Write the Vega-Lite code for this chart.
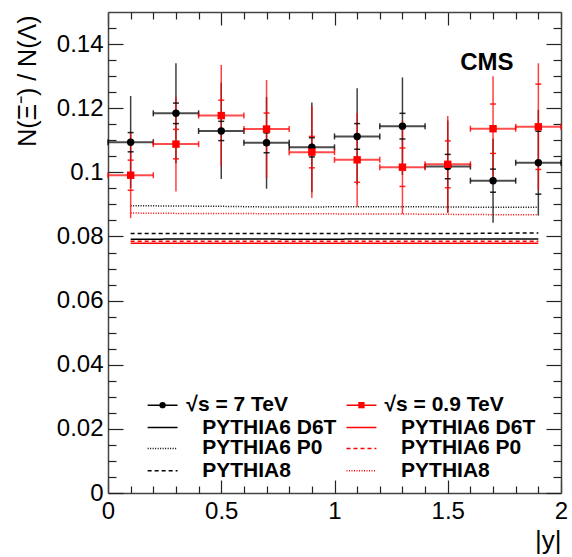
{
  "$schema": "https://vega.github.io/schema/vega-lite/v6.json",
  "width": 453,
  "height": 481,
  "autosize": {"type": "none"},
  "padding": {"left": 108, "top": 12, "right": 11, "bottom": 64},
  "background": "white",
  "config": {
    "view": {"stroke": null},
    "font": "Liberation Sans",
    "axis": {
      "grid": false,
      "domainColor": "#444",
      "domainWidth": 1.5,
      "tickColor": "#222",
      "tickWidth": 1.2,
      "labelFont": "Liberation Sans",
      "labelFontSize": 24,
      "labelColor": "#000",
      "titleFont": "Liberation Sans",
      "titleFontSize": 24,
      "titleFontWeight": "normal",
      "titleColor": "#000"
    }
  },
  "datasets": {
    "meas": [
      {"e": "7", "x": 0.1, "xlo": 0.0, "xhi": 0.2, "r": 0.1094, "lo": 0.0950, "hi": 0.1238, "slo": 0.1064, "shi": 0.1124},
      {"e": "7", "x": 0.3, "xlo": 0.2, "xhi": 0.4, "r": 0.1184, "lo": 0.1028, "hi": 0.1340, "slo": 0.1152, "shi": 0.1216},
      {"e": "7", "x": 0.5, "xlo": 0.4, "xhi": 0.6, "r": 0.1129, "lo": 0.0979, "hi": 0.1279, "slo": 0.1099, "shi": 0.1159},
      {"e": "7", "x": 0.7, "xlo": 0.6, "xhi": 0.8, "r": 0.1092, "lo": 0.0949, "hi": 0.1235, "slo": 0.1061, "shi": 0.1123},
      {"e": "7", "x": 0.9, "xlo": 0.8, "xhi": 1.0, "r": 0.1078, "lo": 0.0938, "hi": 0.1218, "slo": 0.1048, "shi": 0.1108},
      {"e": "7", "x": 1.1, "xlo": 1.0, "xhi": 1.2, "r": 0.1112, "lo": 0.0962, "hi": 0.1262, "slo": 0.1072, "shi": 0.1152},
      {"e": "7", "x": 1.3, "xlo": 1.2, "xhi": 1.4, "r": 0.1144, "lo": 0.0992, "hi": 0.1296, "slo": 0.1104, "shi": 0.1184},
      {"e": "7", "x": 1.5, "xlo": 1.4, "xhi": 1.6, "r": 0.1018, "lo": 0.0874, "hi": 0.1162, "slo": 0.0980, "shi": 0.1056},
      {"e": "7", "x": 1.7, "xlo": 1.6, "xhi": 1.8, "r": 0.0974, "lo": 0.0843, "hi": 0.1105, "slo": 0.0938, "shi": 0.1010},
      {"e": "7", "x": 1.9, "xlo": 1.8, "xhi": 2.0, "r": 0.1030, "lo": 0.0865, "hi": 0.1195, "slo": 0.0932, "shi": 0.1128},
      {"e": "0.9", "x": 0.1, "xlo": 0.0, "xhi": 0.2, "r": 0.0991, "lo": 0.0857, "hi": 0.1125, "slo": 0.0944, "shi": 0.1038},
      {"e": "0.9", "x": 0.3, "xlo": 0.2, "xhi": 0.4, "r": 0.1088, "lo": 0.0940, "hi": 0.1236, "slo": 0.1042, "shi": 0.1134},
      {"e": "0.9", "x": 0.5, "xlo": 0.4, "xhi": 0.6, "r": 0.1177, "lo": 0.1019, "hi": 0.1335, "slo": 0.1129, "shi": 0.1225},
      {"e": "0.9", "x": 0.7, "xlo": 0.6, "xhi": 0.8, "r": 0.1135, "lo": 0.0982, "hi": 0.1288, "slo": 0.1085, "shi": 0.1185},
      {"e": "0.9", "x": 0.9, "xlo": 0.8, "xhi": 1.0, "r": 0.1063, "lo": 0.0920, "hi": 0.1206, "slo": 0.1014, "shi": 0.1112},
      {"e": "0.9", "x": 1.1, "xlo": 1.0, "xhi": 1.2, "r": 0.1039, "lo": 0.0893, "hi": 0.1185, "slo": 0.0969, "shi": 0.1109},
      {"e": "0.9", "x": 1.3, "xlo": 1.2, "xhi": 1.4, "r": 0.1016, "lo": 0.0870, "hi": 0.1162, "slo": 0.0956, "shi": 0.1076},
      {"e": "0.9", "x": 1.5, "xlo": 1.4, "xhi": 1.6, "r": 0.1025, "lo": 0.0874, "hi": 0.1176, "slo": 0.0952, "shi": 0.1098},
      {"e": "0.9", "x": 1.7, "xlo": 1.6, "xhi": 1.8, "r": 0.1136, "lo": 0.0972, "hi": 0.1300, "slo": 0.1059, "shi": 0.1213},
      {"e": "0.9", "x": 1.9, "xlo": 1.8, "xhi": 2.0, "r": 0.1142, "lo": 0.0944, "hi": 0.1340, "slo": 0.1009, "shi": 0.1275}
    ],
    "mc": [
      {"e": "7", "g": "7 D6T", "x": 0.1, "r": 0.0791}, {"e": "7", "g": "7 D6T", "x": 0.3, "r": 0.0792}, {"e": "7", "g": "7 D6T", "x": 0.5, "r": 0.0792}, {"e": "7", "g": "7 D6T", "x": 0.7, "r": 0.0792}, {"e": "7", "g": "7 D6T", "x": 0.9, "r": 0.0791},
      {"e": "7", "g": "7 D6T", "x": 1.1, "r": 0.0792}, {"e": "7", "g": "7 D6T", "x": 1.3, "r": 0.0792}, {"e": "7", "g": "7 D6T", "x": 1.5, "r": 0.0792}, {"e": "7", "g": "7 D6T", "x": 1.7, "r": 0.0792}, {"e": "7", "g": "7 D6T", "x": 1.9, "r": 0.0792},
      {"e": "7", "g": "7 P0", "x": 0.1, "r": 0.0896}, {"e": "7", "g": "7 P0", "x": 0.3, "r": 0.0895}, {"e": "7", "g": "7 P0", "x": 0.5, "r": 0.0894}, {"e": "7", "g": "7 P0", "x": 0.7, "r": 0.0892}, {"e": "7", "g": "7 P0", "x": 0.9, "r": 0.0892},
      {"e": "7", "g": "7 P0", "x": 1.1, "r": 0.0893}, {"e": "7", "g": "7 P0", "x": 1.3, "r": 0.0893}, {"e": "7", "g": "7 P0", "x": 1.5, "r": 0.0892}, {"e": "7", "g": "7 P0", "x": 1.7, "r": 0.0891}, {"e": "7", "g": "7 P0", "x": 1.9, "r": 0.0891},
      {"e": "7", "g": "7 P8", "x": 0.1, "r": 0.0809}, {"e": "7", "g": "7 P8", "x": 0.3, "r": 0.0809}, {"e": "7", "g": "7 P8", "x": 0.5, "r": 0.0809}, {"e": "7", "g": "7 P8", "x": 0.7, "r": 0.0809}, {"e": "7", "g": "7 P8", "x": 0.9, "r": 0.0809},
      {"e": "7", "g": "7 P8", "x": 1.1, "r": 0.0809}, {"e": "7", "g": "7 P8", "x": 1.3, "r": 0.0809}, {"e": "7", "g": "7 P8", "x": 1.5, "r": 0.0809}, {"e": "7", "g": "7 P8", "x": 1.7, "r": 0.0810}, {"e": "7", "g": "7 P8", "x": 1.9, "r": 0.0811},
      {"e": "0.9", "g": "0.9 D6T", "x": 0.1, "r": 0.0779}, {"e": "0.9", "g": "0.9 D6T", "x": 0.3, "r": 0.0779}, {"e": "0.9", "g": "0.9 D6T", "x": 0.5, "r": 0.0779}, {"e": "0.9", "g": "0.9 D6T", "x": 0.7, "r": 0.0779}, {"e": "0.9", "g": "0.9 D6T", "x": 0.9, "r": 0.0779},
      {"e": "0.9", "g": "0.9 D6T", "x": 1.1, "r": 0.0779}, {"e": "0.9", "g": "0.9 D6T", "x": 1.3, "r": 0.0779}, {"e": "0.9", "g": "0.9 D6T", "x": 1.5, "r": 0.0779}, {"e": "0.9", "g": "0.9 D6T", "x": 1.7, "r": 0.0779}, {"e": "0.9", "g": "0.9 D6T", "x": 1.9, "r": 0.0779},
      {"e": "0.9", "g": "0.9 P0", "x": 0.1, "r": 0.0785}, {"e": "0.9", "g": "0.9 P0", "x": 0.3, "r": 0.0785}, {"e": "0.9", "g": "0.9 P0", "x": 0.5, "r": 0.0785}, {"e": "0.9", "g": "0.9 P0", "x": 0.7, "r": 0.0785}, {"e": "0.9", "g": "0.9 P0", "x": 0.9, "r": 0.0785},
      {"e": "0.9", "g": "0.9 P0", "x": 1.1, "r": 0.0785}, {"e": "0.9", "g": "0.9 P0", "x": 1.3, "r": 0.0785}, {"e": "0.9", "g": "0.9 P0", "x": 1.5, "r": 0.0785}, {"e": "0.9", "g": "0.9 P0", "x": 1.7, "r": 0.0785}, {"e": "0.9", "g": "0.9 P0", "x": 1.9, "r": 0.0785},
      {"e": "0.9", "g": "0.9 P8", "x": 0.1, "r": 0.0873}, {"e": "0.9", "g": "0.9 P8", "x": 0.3, "r": 0.0872}, {"e": "0.9", "g": "0.9 P8", "x": 0.5, "r": 0.0872}, {"e": "0.9", "g": "0.9 P8", "x": 0.7, "r": 0.0871}, {"e": "0.9", "g": "0.9 P8", "x": 0.9, "r": 0.0871},
      {"e": "0.9", "g": "0.9 P8", "x": 1.1, "r": 0.0870}, {"e": "0.9", "g": "0.9 P8", "x": 1.3, "r": 0.0870}, {"e": "0.9", "g": "0.9 P8", "x": 1.5, "r": 0.0869}, {"e": "0.9", "g": "0.9 P8", "x": 1.7, "r": 0.0868}, {"e": "0.9", "g": "0.9 P8", "x": 1.9, "r": 0.0868}
    ],
    "leg": [
      {"e": "7", "g": "meas", "x1": 0.175, "x2": 0.307, "yv": 0.0274},
      {"e": "7", "g": "7 D6T", "x1": 0.175, "x2": 0.307, "yv": 0.0204},
      {"e": "7", "g": "7 P0", "x1": 0.175, "x2": 0.307, "yv": 0.0139},
      {"e": "7", "g": "7 P8", "x1": 0.175, "x2": 0.307, "yv": 0.0069},
      {"e": "0.9", "g": "meas", "x1": 1.053, "x2": 1.185, "yv": 0.0274},
      {"e": "0.9", "g": "0.9 D6T", "x1": 1.053, "x2": 1.185, "yv": 0.0204},
      {"e": "0.9", "g": "0.9 P0", "x1": 1.053, "x2": 1.185, "yv": 0.0139},
      {"e": "0.9", "g": "0.9 P8", "x1": 1.053, "x2": 1.185, "yv": 0.0069}
    ],
    "legp": [
      {"e": "7", "x": 0.241, "yv": 0.0274},
      {"e": "0.9", "x": 1.119, "yv": 0.0274}
    ],
    "legt": [
      {"tx": 0.346, "ty": 0.0274, "label": "√s = 7 TeV"},
      {"tx": 0.416, "ty": 0.0204, "label": "PYTHIA6 D6T"},
      {"tx": 0.416, "ty": 0.0139, "label": "PYTHIA6 P0"},
      {"tx": 0.416, "ty": 0.0069, "label": "PYTHIA8"},
      {"tx": 1.221, "ty": 0.0274, "label": "√s = 0.9 TeV"},
      {"tx": 1.294, "ty": 0.0204, "label": "PYTHIA6 D6T"},
      {"tx": 1.294, "ty": 0.0139, "label": "PYTHIA6 P0"},
      {"tx": 1.294, "ty": 0.0069, "label": "PYTHIA8"}
    ],
    "cms": [
      {"tx": 1.673, "ty": 0.1341, "label": "CMS"}
    ]
  },
  "resolve": {"axis": {"x": "independent", "y": "independent"}},
  "layer": [
    {
      "data": {"name": "mc"},
      "mark": {"type": "line", "strokeWidth": 1.5},
      "encoding": {
        "x": {"field": "x", "type": "quantitative", "scale": {"domain": [0, 2], "nice": false, "zero": false},
          "axis": {"orient": "bottom", "values": [0, 0.5, 1, 1.5, 2], "format": "~g", "ticks": false, "domain": true, "labelPadding": 6, "labelFlush": false, "labelOverlap": false,
            "title": "|y|", "titleX": 453, "titleY": 47, "titleAlign": "right", "titleBaseline": "middle", "titleFontSize": 26}},
        "y": {"field": "r", "type": "quantitative", "scale": {"domain": [0, 0.15], "nice": false, "zero": false},
          "axis": {"orient": "left", "values": [0, 0.02, 0.04, 0.06, 0.08, 0.1, 0.12, 0.14], "format": "~g", "ticks": false, "domain": true, "labelPadding": 5, "labelFlush": false, "labelOverlap": false,
            "title": "N(Ξ⁻) / N(Λ)", "titleAngle": 270, "titleX": -81, "titleY": 3, "titleAlign": "right", "titleBaseline": "middle", "titleFontSize": 25}},
        "color": {"field": "e", "type": "nominal", "scale": {"domain": ["7", "0.9"], "range": ["#000000", "#ff0000"]}, "legend": null},
        "strokeDash": {"field": "g", "type": "nominal", "scale": {"domain": ["meas", "7 D6T", "7 P0", "7 P8", "0.9 D6T", "0.9 P0", "0.9 P8"], "range": [[1, 0], [1, 0], [1, 1.5], [4, 3], [1, 0], [4, 3], [1, 1.5]]}, "legend": null}
      }
    },
    {
      "data": {"name": "meas"},
      "mark": {"type": "rule", "strokeWidth": 1.5, "opacity": 0.75},
      "encoding": {
        "x": {"field": "x", "type": "quantitative", "scale": {"domain": [0, 2], "nice": false, "zero": false},
          "axis": {"orient": "bottom", "values": [0, 0.5, 1, 1.5, 2], "labels": false, "domain": false, "ticks": true, "tickSize": -13, "title": null}},
        "y": {"field": "lo", "type": "quantitative", "scale": {"domain": [0, 0.15], "nice": false, "zero": false},
          "axis": {"orient": "left", "values": [0, 0.02, 0.04, 0.06, 0.08, 0.1, 0.12, 0.14], "labels": false, "domain": false, "ticks": true, "tickSize": -15, "title": null}},
        "y2": {"field": "hi"},
        "color": {"field": "e", "type": "nominal", "scale": {"domain": ["7", "0.9"], "range": ["#000000", "#ff0000"]}, "legend": null}
      }
    },
    {
      "data": {"name": "meas"},
      "transform": [{"fold": ["slo", "shi"], "as": ["k", "v"]}],
      "mark": {"type": "tick", "orient": "horizontal", "size": 6, "thickness": 1.5, "opacity": 0.85},
      "encoding": {
        "x": {"field": "x", "type": "quantitative", "scale": {"domain": [0, 2], "nice": false, "zero": false},
          "axis": {"orient": "bottom", "values": [0.1, 0.2, 0.3, 0.4, 0.6, 0.7, 0.8, 0.9, 1.1, 1.2, 1.3, 1.4, 1.6, 1.7, 1.8, 1.9], "labels": false, "domain": false, "ticks": true, "tickSize": -7, "title": null}},
        "y": {"field": "v", "type": "quantitative", "scale": {"domain": [0, 0.15], "nice": false, "zero": false},
          "axis": {"orient": "left", "values": [0.005, 0.01, 0.015, 0.025, 0.03, 0.035, 0.045, 0.05, 0.055, 0.065, 0.07, 0.075, 0.085, 0.09, 0.095, 0.105, 0.11, 0.115, 0.125, 0.13, 0.135, 0.145], "labels": false, "domain": false, "ticks": true, "tickSize": -8, "title": null}},
        "color": {"field": "e", "type": "nominal", "scale": {"domain": ["7", "0.9"], "range": ["#000000", "#ff0000"]}, "legend": null}
      }
    },
    {
      "data": {"name": "meas"},
      "mark": {"type": "rule", "strokeWidth": 2, "opacity": 0.7},
      "encoding": {
        "x": {"field": "xlo", "type": "quantitative", "scale": {"domain": [0, 2], "nice": false, "zero": false},
          "axis": {"orient": "top", "values": [0, 0.5, 1, 1.5, 2], "labels": false, "domain": true, "ticks": true, "tickSize": -13, "title": null}},
        "x2": {"field": "xhi"},
        "y": {"field": "r", "type": "quantitative", "scale": {"domain": [0, 0.15], "nice": false, "zero": false},
          "axis": {"orient": "right", "values": [0, 0.02, 0.04, 0.06, 0.08, 0.1, 0.12, 0.14], "labels": false, "domain": true, "ticks": true, "tickSize": -15, "title": null}},
        "color": {"field": "e", "type": "nominal", "scale": {"domain": ["7", "0.9"], "range": ["#000000", "#ff0000"]}, "legend": null}
      }
    },
    {
      "data": {"name": "meas"},
      "transform": [{"fold": ["xlo", "xhi"], "as": ["k", "v"]}],
      "mark": {"type": "tick", "orient": "vertical", "size": 6, "thickness": 1.5, "opacity": 0.8},
      "encoding": {
        "x": {"field": "v", "type": "quantitative", "scale": {"domain": [0, 2], "nice": false, "zero": false},
          "axis": {"orient": "top", "values": [0.1, 0.2, 0.3, 0.4, 0.6, 0.7, 0.8, 0.9, 1.1, 1.2, 1.3, 1.4, 1.6, 1.7, 1.8, 1.9], "labels": false, "domain": false, "ticks": true, "tickSize": -7, "title": null}},
        "y": {"field": "r", "type": "quantitative", "scale": {"domain": [0, 0.15], "nice": false, "zero": false},
          "axis": {"orient": "right", "values": [0.005, 0.01, 0.015, 0.025, 0.03, 0.035, 0.045, 0.05, 0.055, 0.065, 0.07, 0.075, 0.085, 0.09, 0.095, 0.105, 0.11, 0.115, 0.125, 0.13, 0.135, 0.145], "labels": false, "domain": false, "ticks": true, "tickSize": -8, "title": null}},
        "color": {"field": "e", "type": "nominal", "scale": {"domain": ["7", "0.9"], "range": ["#000000", "#ff0000"]}, "legend": null}
      }
    },
    {
      "data": {"name": "meas"},
      "mark": {"type": "point", "filled": true, "opacity": 1},
      "encoding": {
        "x": {"field": "x", "type": "quantitative", "scale": {"domain": [0, 2], "nice": false, "zero": false}, "axis": null},
        "y": {"field": "r", "type": "quantitative", "scale": {"domain": [0, 0.15], "nice": false, "zero": false}, "axis": null},
        "color": {"field": "e", "type": "nominal", "scale": {"domain": ["7", "0.9"], "range": ["#000000", "#ff0000"]}, "legend": null},
        "shape": {"field": "e", "type": "nominal", "scale": {"domain": ["7", "0.9"], "range": ["circle", "square"]}, "legend": null},
        "size": {"value": 55}
      }
    },
    {
      "data": {"name": "leg"},
      "mark": {"type": "rule", "strokeWidth": 1.5},
      "encoding": {
        "x": {"field": "x1", "type": "quantitative", "scale": {"domain": [0, 2], "nice": false, "zero": false}, "axis": null},
        "x2": {"field": "x2"},
        "y": {"field": "yv", "type": "quantitative", "scale": {"domain": [0, 0.15], "nice": false, "zero": false}, "axis": null},
        "color": {"field": "e", "type": "nominal", "scale": {"domain": ["7", "0.9"], "range": ["#000000", "#ff0000"]}, "legend": null},
        "strokeDash": {"field": "g", "type": "nominal", "scale": {"domain": ["meas", "7 D6T", "7 P0", "7 P8", "0.9 D6T", "0.9 P0", "0.9 P8"], "range": [[1, 0], [1, 0], [1, 1.5], [4, 3], [1, 0], [4, 3], [1, 1.5]]}, "legend": null}
      }
    },
    {
      "data": {"name": "legp"},
      "mark": {"type": "point", "filled": true, "opacity": 1},
      "encoding": {
        "x": {"field": "x", "type": "quantitative", "scale": {"domain": [0, 2], "nice": false, "zero": false}, "axis": null},
        "y": {"field": "yv", "type": "quantitative", "scale": {"domain": [0, 0.15], "nice": false, "zero": false}, "axis": null},
        "color": {"field": "e", "type": "nominal", "scale": {"domain": ["7", "0.9"], "range": ["#000000", "#ff0000"]}, "legend": null},
        "shape": {"field": "e", "type": "nominal", "scale": {"domain": ["7", "0.9"], "range": ["circle", "square"]}, "legend": null},
        "size": {"value": 40}
      }
    },
    {
      "data": {"name": "legt"},
      "mark": {"type": "text", "align": "left", "baseline": "middle", "font": "Liberation Sans", "fontWeight": "bold", "fontSize": 21, "color": "#000"},
      "encoding": {
        "x": {"field": "tx", "type": "quantitative", "scale": {"domain": [0, 2], "nice": false, "zero": false}, "axis": null},
        "y": {"field": "ty", "type": "quantitative", "scale": {"domain": [0, 0.15], "nice": false, "zero": false}, "axis": null},
        "text": {"field": "label", "type": "nominal"}
      }
    },
    {
      "data": {"name": "cms"},
      "mark": {"type": "text", "align": "center", "baseline": "middle", "font": "Liberation Sans", "fontWeight": "bold", "fontSize": 24, "color": "#000"},
      "encoding": {
        "x": {"field": "tx", "type": "quantitative", "scale": {"domain": [0, 2], "nice": false, "zero": false}, "axis": null},
        "y": {"field": "ty", "type": "quantitative", "scale": {"domain": [0, 0.15], "nice": false, "zero": false}, "axis": null},
        "text": {"field": "label", "type": "nominal"}
      }
    }
  ]
}
